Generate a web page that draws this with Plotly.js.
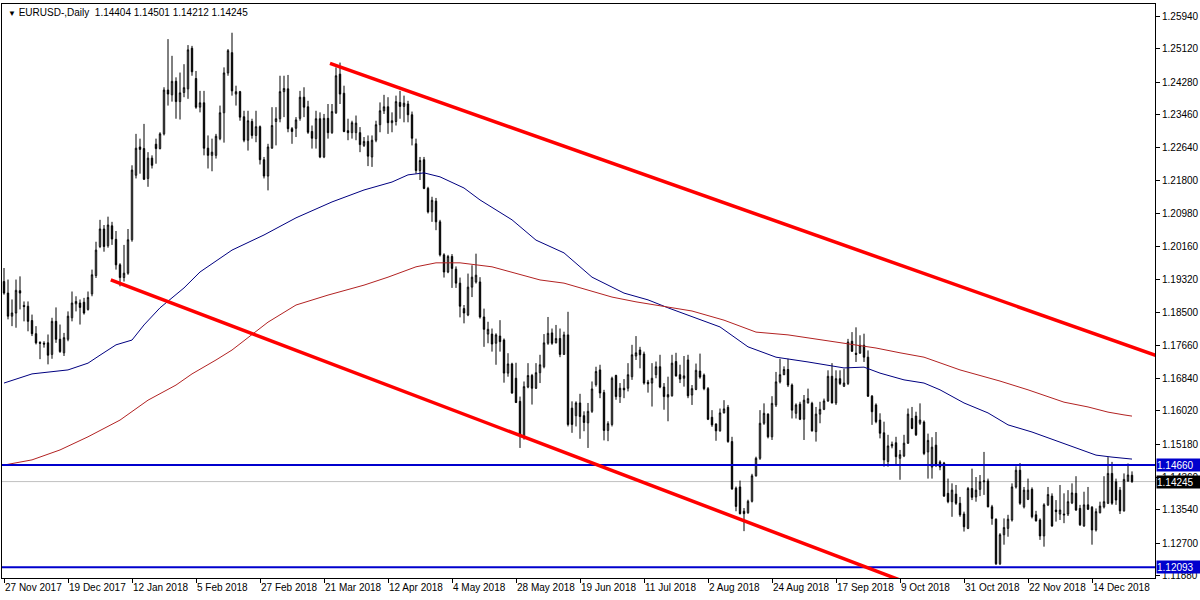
<!DOCTYPE html>
<html>
<head>
<meta charset="utf-8">
<script src="https://cdn.plot.ly/plotly-3.0.1.min.js"></script>
<style>html,body{margin:0;padding:0;background:#fff;}#chart{width:1200px;height:600px;}</style>
</head>
<body>
<div id="chart"></div>
<script>
// ---- Daily EURUSD candles (27 Nov 2017 ... 31 Dec 2018) ----
const opens = [
1.1927,1.1898,1.1840,1.1848,1.1904,1.1867,1.1865,1.1829,1.1796,1.1774,
1.1772,1.1773,1.1744,1.1827,1.1782,1.1748,1.1782,1.1836,1.1871,1.1873,
1.1875,1.1857,1.1896,1.1942,1.2015,1.2059,1.2017,1.2067,1.2033,1.1969,
1.1937,1.1948,1.2032,1.2194,1.2265,1.2261,1.2186,1.2237,1.2272,1.2261,
1.2298,1.2408,1.2396,1.2430,1.2379,1.2402,1.2411,1.2513,1.2437,1.2365,
1.2376,1.2262,1.2244,1.2244,1.2286,1.2351,1.2451,1.2502,1.2398,1.2404,
1.2341,1.2282,1.2329,1.2294,1.2316,1.2233,1.2192,1.2262,1.2329,1.2336,
1.2404,1.2411,1.2311,1.2312,1.2337,1.2390,1.2366,1.2304,1.2286,1.2336,
1.2240,1.2337,1.2301,1.2351,1.2448,1.2400,1.2306,1.2301,1.2301,1.2301,
1.2269,1.2279,1.2240,1.2282,1.2321,1.2356,1.2366,1.2326,1.2329,1.2377,
1.2367,1.2373,1.2346,1.2273,1.2206,1.2233,1.2161,1.2102,1.2129,1.2077,
1.1994,1.1951,1.1990,1.1958,1.1923,1.1859,1.1843,1.1913,1.1926,1.1926,
1.1838,1.1795,1.1795,1.1772,1.1790,1.1780,1.1697,1.1720,1.1684,1.1626,
1.1538,1.1662,1.1691,1.1659,1.1698,1.1713,1.1772,1.1798,1.1773,1.1784,
1.1744,1.1793,1.1609,1.1590,1.1622,1.1590,1.1572,1.1601,1.1668,1.1705,
1.1648,1.1553,1.1568,1.1691,1.1638,1.1659,1.1659,1.1688,1.1740,1.1755,
1.1745,1.1674,1.1672,1.1693,1.1713,1.1662,1.1637,1.1640,1.1726,1.1693,
1.1684,1.1730,1.1642,1.1656,1.1702,1.1692,1.1658,1.1586,1.1569,1.1552,
1.1597,1.1611,1.1525,1.1408,1.1411,1.1350,1.1346,1.1375,1.1439,1.1483,
1.1571,1.1594,1.1537,1.1617,1.1675,1.1693,1.1706,1.1667,1.1596,1.1619,
1.1581,1.1622,1.1621,1.1550,1.1594,1.1606,1.1627,1.1689,1.1622,1.1683,
1.1664,1.1671,1.1777,1.1747,1.1747,1.1767,1.1737,1.1639,1.1617,1.1579,
1.1547,1.1475,1.1514,1.1522,1.1483,1.1489,1.1521,1.1583,1.1589,1.1571,
1.1574,1.1499,1.1461,1.1516,1.1474,1.1471,1.1395,1.1374,1.1393,1.1370,
1.1343,1.1307,1.1407,1.1386,1.1405,1.1424,1.1426,1.1361,1.1330,1.1218,
1.1291,1.1307,1.1328,1.1411,1.1453,1.1361,1.1380,1.1405,1.1341,1.1328,
1.1288,1.1366,1.1388,1.1353,1.1343,1.1343,1.1343,1.1371,1.1395,1.1357,
1.1313,1.1366,1.1360,1.1303,1.1346,1.1361,1.1370,1.1445,1.1424,1.1403,
1.1351,1.1426,1.14404];
const highs = [
1.1961,1.1932,1.1882,1.1932,1.1940,1.1877,1.1877,1.1844,1.1815,1.1777,
1.1777,1.1794,1.1836,1.1862,1.1819,1.1798,1.1852,1.1902,1.1890,1.1882,
1.1886,1.1902,1.1957,1.2027,1.2082,1.2069,1.2090,1.2077,1.2054,1.1973,
1.2019,1.2059,1.2219,1.2298,1.2286,1.2323,1.2252,1.2244,1.2286,1.2302,
1.2415,1.2536,1.2494,1.2440,1.2452,1.2473,1.2521,1.2519,1.2456,1.2406,
1.2406,1.2294,1.2286,1.2298,1.2369,1.2465,1.2511,1.2552,1.2419,1.2406,
1.2356,1.2356,1.2336,1.2356,1.2319,1.2240,1.2273,1.2365,1.2365,1.2444,
1.2444,1.2446,1.2315,1.2340,1.2406,1.2415,1.2381,1.2319,1.2356,1.2352,
1.2348,1.2373,1.2373,1.2465,1.2477,1.2419,1.2336,1.2331,1.2344,1.2315,
1.2290,1.2294,1.2294,1.2331,1.2377,1.2396,1.2390,1.2352,1.2394,1.2406,
1.2394,1.2381,1.2354,1.2286,1.2240,1.2240,1.2165,1.2140,1.2137,1.2082,
1.1998,1.1994,1.1996,1.1965,1.1937,1.1868,1.1947,1.1968,1.1997,1.1938,
1.1859,1.1826,1.1809,1.1797,1.1830,1.1784,1.1747,1.1723,1.1723,1.1638,
1.1676,1.1722,1.1695,1.1722,1.1743,1.1795,1.1838,1.1809,1.1818,1.1809,
1.1801,1.1851,1.1626,1.1626,1.1645,1.1601,1.1622,1.1676,1.1713,1.1718,
1.1655,1.1576,1.1688,1.1693,1.1672,1.1682,1.1722,1.1768,1.1790,1.1763,
1.1751,1.1680,1.1722,1.1726,1.1743,1.1672,1.1688,1.1743,1.1748,1.1718,
1.1740,1.1743,1.1667,1.1721,1.1746,1.1696,1.1662,1.1604,1.1571,1.1608,
1.1629,1.1617,1.1537,1.1412,1.1427,1.1358,1.1379,1.1444,1.1487,1.1604,
1.1621,1.1596,1.1639,1.1700,1.1733,1.1714,1.1733,1.1671,1.1621,1.1625,
1.1642,1.1658,1.1625,1.1612,1.1625,1.1633,1.1704,1.1722,1.1704,1.1704,
1.1708,1.1783,1.1800,1.1812,1.1792,1.1796,1.1754,1.1642,1.1621,1.1596,
1.1575,1.1542,1.1525,1.1537,1.1504,1.1542,1.1608,1.1612,1.1600,1.1621,
1.1578,1.1545,1.1536,1.1549,1.1478,1.1474,1.1432,1.1420,1.1416,1.1386,
1.1349,1.1411,1.1457,1.1436,1.1441,1.1499,1.1432,1.1366,1.1332,1.1295,
1.1332,1.1341,1.1420,1.1463,1.1471,1.1411,1.1432,1.1410,1.1351,1.1332,
1.1370,1.1411,1.1395,1.1378,1.1416,1.1395,1.1403,1.1420,1.1438,1.1366,
1.1399,1.1411,1.1363,1.1357,1.1374,1.1438,1.1486,1.1474,1.1432,1.1411,
1.1445,1.1470,1.14501];
const lows = [
1.1894,1.1832,1.1815,1.1811,1.1857,1.1827,1.1802,1.1790,1.1769,1.1732,
1.1761,1.1719,1.1733,1.1773,1.1748,1.1740,1.1777,1.1827,1.1852,1.1819,
1.1844,1.1854,1.1890,1.1936,1.2011,1.2002,1.2012,1.2019,1.1957,1.1915,
1.1927,1.1944,1.2027,1.2186,1.2198,1.2182,1.2165,1.2211,1.2223,1.2259,
1.2294,1.2369,1.2379,1.2336,1.2334,1.2390,1.2386,1.2444,1.2361,1.2352,
1.2244,1.2211,1.2204,1.2236,1.2282,1.2276,1.2444,1.2394,1.2369,1.2331,
1.2277,1.2256,1.2286,1.2277,1.2221,1.2186,1.2156,1.2261,1.2269,1.2327,
1.2340,1.2302,1.2273,1.2290,1.2331,1.2340,1.2298,1.2261,1.2261,1.2237,
1.2237,1.2286,1.2298,1.2348,1.2373,1.2302,1.2282,1.2286,1.2282,1.2252,
1.2265,1.2217,1.2215,1.2277,1.2302,1.2348,1.2298,1.2302,1.2319,1.2336,
1.2327,1.2327,1.2269,1.2198,1.2182,1.2159,1.2098,1.2077,1.2056,1.1990,
1.1937,1.1948,1.1911,1.1911,1.1837,1.1822,1.1840,1.1888,1.1922,1.1834,
1.1763,1.1772,1.1751,1.1718,1.1751,1.1673,1.1688,1.1645,1.1622,1.1509,
1.1530,1.1659,1.1618,1.1657,1.1672,1.1709,1.1768,1.1768,1.1772,1.1737,
1.1743,1.1563,1.1547,1.1563,1.1532,1.1551,1.1509,1.1597,1.1663,1.1634,
1.1528,1.1526,1.1563,1.1630,1.1622,1.1634,1.1651,1.1680,1.1730,1.1709,
1.1668,1.1648,1.1613,1.1684,1.1659,1.1605,1.1576,1.1638,1.1688,1.1672,
1.1663,1.1634,1.1617,1.1654,1.1683,1.1654,1.1579,1.1562,1.1527,1.1550,
1.1596,1.1522,1.1404,1.1350,1.1342,1.1300,1.1344,1.1372,1.1437,1.1479,
1.1567,1.1533,1.1529,1.1612,1.1671,1.1692,1.1662,1.1583,1.1583,1.1579,
1.1529,1.1621,1.1550,1.1525,1.1571,1.1604,1.1625,1.1621,1.1617,1.1667,
1.1662,1.1667,1.1750,1.1725,1.1746,1.1725,1.1637,1.1567,1.1571,1.1533,
1.1462,1.1462,1.1508,1.1467,1.1429,1.1486,1.1519,1.1556,1.1539,1.1567,
1.1491,1.1432,1.1432,1.1461,1.1453,1.1386,1.1370,1.1336,1.1366,1.1336,
1.1299,1.1305,1.1378,1.1374,1.1388,1.1391,1.1360,1.1316,1.1215,1.1215,
1.1266,1.1286,1.1324,1.1407,1.1366,1.1357,1.1378,1.1332,1.1324,1.1278,
1.1261,1.1363,1.1311,1.1324,1.1328,1.1320,1.1338,1.1368,1.1351,1.1313,
1.1311,1.1353,1.1266,1.1299,1.1345,1.1357,1.1368,1.1366,1.1366,1.1343,
1.1349,1.1424,1.14212];
const closes = [
1.1898,1.1840,1.1848,1.1905,1.1898,1.1864,1.1827,1.1796,1.1773,1.1772,
1.1770,1.1742,1.1827,1.1782,1.1751,1.1786,1.1840,1.1873,1.1877,1.1862,
1.1848,1.1887,1.1944,1.2006,1.2059,1.2015,1.2069,1.2034,1.1969,1.1937,
1.1948,1.2032,1.2207,1.2262,1.2259,1.2184,1.2237,1.2219,1.2261,1.2298,
1.2408,1.2398,1.2430,1.2379,1.2401,1.2414,1.2509,1.2454,1.2365,1.2376,
1.2262,1.2244,1.2252,1.2292,1.2351,1.2451,1.2507,1.2406,1.2404,1.2340,
1.2282,1.2331,1.2294,1.2316,1.2233,1.2192,1.2265,1.2319,1.2336,1.2404,
1.2412,1.2311,1.2304,1.2333,1.2390,1.2365,1.2302,1.2287,1.2336,1.2240,
1.2337,1.2301,1.2354,1.2444,1.2398,1.2304,1.2301,1.2326,1.2325,1.2271,
1.2279,1.2242,1.2282,1.2321,1.2356,1.2366,1.2326,1.2331,1.2379,1.2367,
1.2375,1.2346,1.2287,1.2206,1.2231,1.2161,1.2102,1.2131,1.2077,1.1994,
1.1951,1.1990,1.1960,1.1923,1.1865,1.1848,1.1913,1.1938,1.1943,1.1838,
1.1807,1.1807,1.1770,1.1793,1.1776,1.1697,1.1720,1.1647,1.1623,1.1538,
1.1663,1.1691,1.1659,1.1698,1.1718,1.1773,1.1797,1.1772,1.1784,1.1744,
1.1793,1.1568,1.1568,1.1622,1.1588,1.1573,1.1601,1.1657,1.1701,1.1647,
1.1553,1.1570,1.1684,1.1638,1.1659,1.1655,1.1693,1.1743,1.1748,1.1743,
1.1672,1.1670,1.1684,1.1713,1.1662,1.1638,1.1643,1.1722,1.1690,1.1682,
1.1690,1.1640,1.1658,1.1704,1.1687,1.1658,1.1581,1.1567,1.1552,1.1597,
1.1607,1.1525,1.1406,1.1362,1.1344,1.1344,1.1375,1.1439,1.1483,1.1571,
1.1596,1.1537,1.1621,1.1675,1.1693,1.1706,1.1667,1.1604,1.1617,1.1581,
1.1629,1.1633,1.1552,1.1594,1.1606,1.1627,1.1689,1.1622,1.1683,1.1671,
1.1672,1.1775,1.1752,1.1744,1.1767,1.1737,1.1639,1.1600,1.1575,1.1546,
1.1479,1.1514,1.1518,1.1487,1.1492,1.1521,1.1594,1.1558,1.1542,1.1579,
1.1495,1.1528,1.1511,1.1466,1.1461,1.1388,1.1374,1.1403,1.1370,1.1341,
1.1311,1.1407,1.1385,1.1403,1.1424,1.1426,1.1361,1.1332,1.1218,1.1291,
1.1309,1.1330,1.1411,1.1453,1.1370,1.1403,1.1403,1.1336,1.1326,1.1288,
1.1366,1.1392,1.1313,1.1349,1.1353,1.1341,1.1374,1.1396,1.1353,1.1316,
1.1366,1.1355,1.1303,1.1349,1.1363,1.1374,1.1445,1.1370,1.1378,1.1351,
1.1430,1.1441,1.14245];

// ---- Moving averages (values read at the given bar numbers) ----
const blueMABars = [0,7,16,21,24,28,32,35,39,45,49,54,57,65,73,82,90,97,101,105,109,115,119,127,133,140,147,155,161,166,172,179,186,193,201,210,215,219,225,230,234,240,246,251,257,262,268,273,277,282];
const blueMAValues = [1.1672,1.1695,1.1705,1.1722,1.1742,1.1768,1.1780,1.1818,1.1861,1.1911,1.1951,1.1986,1.2006,1.2044,1.2087,1.2127,1.2157,1.2177,1.2195,1.2200,1.2190,1.2162,1.2132,1.2082,1.2031,1.1999,1.1938,1.1898,1.1881,1.1861,1.1838,1.1813,1.1763,1.1737,1.1725,1.1710,1.1712,1.1697,1.1680,1.1672,1.1655,1.1622,1.1597,1.1567,1.1549,1.1531,1.1509,1.1491,1.1486,1.1481];
const redMABars = [0,7,14,21,29,36,43,47,53,57,66,73,81,90,96,103,108,114,122,128,134,140,146,152,158,164,172,180,188,196,205,213,218,224,230,239,249,256,265,271,276,280,282];
const redMAValues = [1.1466,1.1479,1.1504,1.1537,1.1579,1.1629,1.1667,1.1695,1.1730,1.1755,1.1825,1.1868,1.1893,1.1918,1.1938,1.1964,1.1974,1.1974,1.1964,1.1948,1.1931,1.1923,1.1906,1.1888,1.1876,1.1866,1.1853,1.1830,1.1800,1.1793,1.1780,1.1768,1.1760,1.1748,1.1737,1.1705,1.1677,1.1655,1.1624,1.1612,1.1599,1.1592,1.1589];

// ---- Drawn channel (bar, price) and levels ----
const upperChannelBars = [81.5, 290];
const upperChannelPrices = [1.2475, 1.1734];
const lowerChannelBars = [26.7, 240];
const lowerChannelPrices = [1.1931, 1.1116];
const blueLevels = [1.14660, 1.12093];
const bidPrice = 1.14245;

// ---- Axis labels ----
const tickBars = [0,16,32,48,64,80,96,112,128,144,160,176,192,208,224,240,256,272];
const tickDates = ['27 Nov 2017','19 Dec 2017','12 Jan 2018','5 Feb 2018','27 Feb 2018','21 Mar 2018','12 Apr 2018','4 May 2018','28 May 2018','19 Jun 2018','11 Jul 2018','2 Aug 2018','24 Aug 2018','17 Sep 2018','9 Oct 2018','31 Oct 2018','22 Nov 2018','14 Dec 2018'];
const priceTicks = [1.2594,1.2512,1.2428,1.2346,1.2264,1.2180,1.2098,1.2016,1.1932,1.1850,1.1766,1.1684,1.1602,1.1518,1.1436,1.1354,1.1270,1.1188];
const symbolTitle = 'EURUSD-,Daily';

const FONT = 'Liberation Sans, Arial, sans-serif';
const n = opens.length;
const barIdx = opens.map((_, i) => i);
const last = n - 1;

const traces = [
  {
    type: 'candlestick', x: barIdx, open: opens, high: highs, low: lows, close: closes,
    increasing: {line: {color: '#000000', width: 1}, fillcolor: '#ffffff'},
    decreasing: {line: {color: '#000000', width: 1}, fillcolor: '#000000'},
    whiskerwidth: 0, hoverinfo: 'skip', showlegend: false
  },
  {type: 'scatter', mode: 'lines', x: blueMABars, y: blueMAValues, line: {color: '#000080', width: 1}, hoverinfo: 'skip', showlegend: false},
  {type: 'scatter', mode: 'lines', x: redMABars, y: redMAValues, line: {color: '#b22222', width: 1}, hoverinfo: 'skip', showlegend: false}
];

const shapes = [
  {type: 'line', xref: 'paper', x0: 0, x1: 1, yref: 'y', y0: bidPrice, y1: bidPrice, line: {color: '#c0c0c0', width: 1}, layer: 'below'},
  ...blueLevels.map(v => ({type: 'line', xref: 'paper', x0: 0, x1: 1, yref: 'y', y0: v, y1: v, line: {color: '#0000cd', width: 2}})),
  {type: 'line', xref: 'x', yref: 'y', x0: upperChannelBars[0], x1: upperChannelBars[1], y0: upperChannelPrices[0], y1: upperChannelPrices[1], line: {color: '#ff0000', width: 3.5}},
  {type: 'line', xref: 'x', yref: 'y', x0: lowerChannelBars[0], x1: lowerChannelBars[1], y0: lowerChannelPrices[0], y1: lowerChannelPrices[1], line: {color: '#ff0000', width: 3.5}}
];

function priceBox(v, bg) {
  return {xref: 'paper', x: 1, xanchor: 'left', xshift: 1, yref: 'y', y: v, yanchor: 'middle',
    text: v.toFixed(5), showarrow: false, bgcolor: bg, font: {family: FONT, size: 10, color: '#ffffff'},
    width: 44, height: 12, align: 'left', borderpad: 0};
}

const headerText = '<span style="font-size:8px">▼</span> ' + symbolTitle + '  ' +
  [opens[last], highs[last], lows[last], closes[last]].map(v => v.toFixed(5)).join(' ');

const annotations = [
  {xref: 'paper', yref: 'paper', x: 0, y: 1, xanchor: 'left', yanchor: 'top', xshift: 4, yshift: -1,
   text: headerText, showarrow: false, font: {family: FONT, size: 10, color: '#000000'}},
  ...blueLevels.map(v => priceBox(v, '#0000cd')),
  priceBox(bidPrice, '#000000')
];

const layout = {
  width: 1200, height: 600,
  margin: {l: 2, r: 45, t: 4, b: 22, pad: 0},
  paper_bgcolor: '#ffffff', plot_bgcolor: '#ffffff',
  showlegend: false, hovermode: false,
  boxgap: 0.5,
  font: {family: FONT, size: 10, color: '#000000'},
  xaxis: {
    range: [-0.5, 287.75], rangeslider: {visible: false},
    tickmode: 'array', tickvals: tickBars, ticktext: tickDates,
    tickangle: 0, automargin: false,
    ticks: 'outside', ticklen: 4, tickcolor: '#000000', ticklabelposition: 'outside right',
    showline: true, linecolor: '#000000', linewidth: 1, mirror: true,
    showgrid: false, zeroline: false, fixedrange: true,
    tickfont: {family: FONT, size: 10, color: '#000000'}
  },
  yaxis: {
    range: [1.11823, 1.26242], side: 'right',
    tickmode: 'array', tickvals: priceTicks, ticktext: priceTicks.map(v => v.toFixed(5)),
    ticks: 'outside', ticklen: 4, tickcolor: '#000000', automargin: false,
    showline: true, linecolor: '#000000', linewidth: 1, mirror: true,
    showgrid: false, zeroline: false, fixedrange: true,
    tickfont: {family: FONT, size: 10, color: '#000000'}
  },
  shapes: shapes,
  annotations: annotations
};

Plotly.newPlot('chart', traces, layout, {staticPlot: true, displayModeBar: false});
</script>
</body>
</html>
